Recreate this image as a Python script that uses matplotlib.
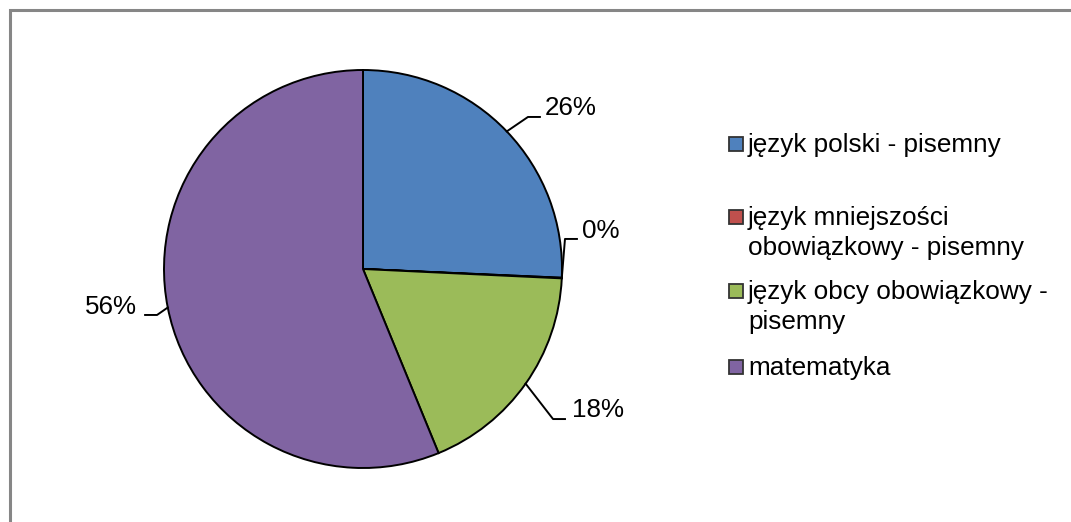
import matplotlib
matplotlib.use("Agg")
import matplotlib.pyplot as plt
from matplotlib.patches import Rectangle
import numpy as np

# data
subjects = ["język polski - pisemny",
            "język mniejszości\nobowiązkowy - pisemny",
            "język obcy obowiązkowy -\npisemny",
            "matematyka"]
shares = [25.7, 0.05, 18.05, 56.2]
pct_labels = ["26%", "0%", "18%", "56%"]
colors = ["#4F81BD", "#C0504D", "#9BBB59", "#8064A2"]

plt.rcParams['font.family'] = ['Liberation Sans', 'DejaVu Sans']

W, H = 1071, 522
fig = plt.figure(figsize=(W / 100, H / 100), dpi=100)


def fx(px):
    return px / W


def fy(py):
    return 1 - py / H


# outer chart frame (right/bottom edges run off the picture)
fig.patches.append(Rectangle((fx(9.5), -0.1), 1.2, fy(9.5) + 0.1,
                             transform=fig.transFigure, fill=False,
                             edgecolor="#868686", linewidth=2.2))

cx, cy, r = 363, 269, 199
ax = fig.add_axes([fx(cx - r), fy(cy + r), 2 * r / W, 2 * r / H])
wedges, _ = ax.pie(shares, colors=colors, startangle=90, counterclock=False,
                   radius=1, wedgeprops=dict(edgecolor="black", linewidth=1.4))
ax.set_xlim(-1, 1)
ax.set_ylim(-1, 1)
ax.set_aspect("equal")
ax.axis("off")

# leader layout: elbow point, end of horizontal stub, text anchor
elbows = [(0.829, 0.764), (1.015, 0.151), (0.955, -0.754), (-1.035, -0.231)]
stub_x = [0.889, 1.075, 1.015, -1.095]
text_pos = [(0.915, 0.809, "left"), (1.10, 0.191, "left"),
            (1.05, -0.709, "left"), (-1.136, -0.191, "right")]

for w, lab, (ex, ey), sx, (tx, ty, ha) in zip(wedges, pct_labels, elbows, stub_x, text_pos):
    mid = np.deg2rad((w.theta1 + w.theta2) / 2)
    px, py = np.cos(mid), np.sin(mid)
    ax.plot([px, ex, sx], [py, ey, ey], color="black", lw=1.4, clip_on=False)
    ax.text(tx, ty, lab, ha=ha, va="center", fontsize=18.7)

# legend
sq_y = [144, 217, 291, 367]
for name, col, yc in zip(subjects, colors, sq_y):
    fig.patches.append(Rectangle((fx(729), fy(yc + 7)), 14 / W, 14 / H,
                                 transform=fig.transFigure, facecolor=col,
                                 edgecolor="#333333", linewidth=1.3))
    for k, line in enumerate(name.split("\n")):
        fig.text(fx(748), fy(yc + 8 + 30 * k), line, ha="left", va="baseline",
                 fontsize=18.8)

fig.savefig("out.png", dpi=100)
